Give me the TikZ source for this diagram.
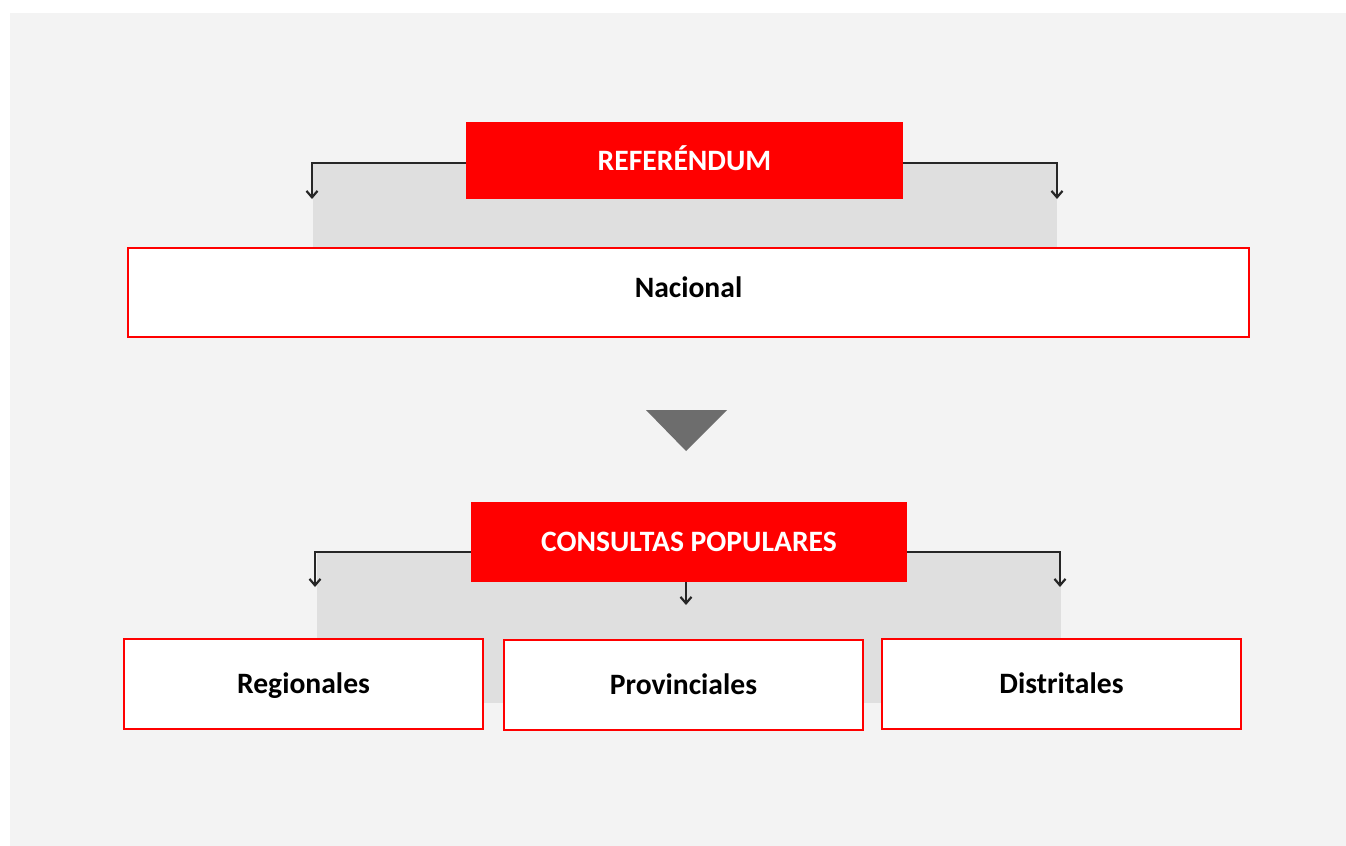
\documentclass[tikz,border=0pt]{standalone}
\usepackage{fontspec}
\setmainfont{Carlito}
\usepackage{tikz}
\usetikzlibrary{arrows.meta}

\definecolor{rojo}{HTML}{FF0000}
\definecolor{fondo}{HTML}{F3F3F3}
\definecolor{banda}{HTML}{DFDFDF}
\definecolor{flecha}{HTML}{6D6D6D}
\definecolor{linea}{HTML}{262626}

\tikzset{
	titulo/.style={shape=rectangle, fill=rojo, text=white, inner sep=0pt, text height=9.5pt, text depth=0pt, font=\fontsize{14.8}{18}\selectfont\bfseries},
	caja/.style={shape=rectangle, draw=rojo, fill=white, line width=1.2pt, inner sep=0pt, text height=9.5pt, text depth=0pt, font=\fontsize{14.8}{18}\selectfont\bfseries},
	conector/.style={-{Straight Barb[length=3.2pt,width=5.5pt,line width=1.1pt]}, line width=0.9pt, draw=linea}
}

\begin{document}
\begin{tikzpicture}[x=0.5pt, y=-0.5pt]
			\useasboundingbox (0,0) rectangle (1346,846);
			\fill[white] (0,0) rectangle (1346,846);
			\fill[fondo] (10,13) rectangle (1346,846);
			
			% bandas grises
			\fill[banda] (313,163) rectangle (1057,247);
			\fill[banda] (317,552) rectangle (1061,703);
			
			\node[titulo, minimum width=218.5pt, minimum height=38.5pt] (R) at (684.5,160.5) {REFERÉNDUM};
			\node[caja, minimum width=560.5pt, minimum height=44.5pt] (N) at (688.5,292.5) {\raisebox{2.5pt}{Nacional}};
			
			\fill[flecha] (646,410) -- (727,410) -- (686,451) -- cycle;
			
			\node[titulo, minimum width=218pt, minimum height=40pt] (C) at (689,542) {CONSULTAS POPULARES};
			\node[caja, minimum width=179.5pt, minimum height=45pt] (C1) at (303.5,684) {Regionales};
			\node[caja, minimum width=179.5pt, minimum height=45pt] (C2) at (683.5,685) {Provinciales};
			\node[caja, minimum width=179.5pt, minimum height=45pt] (C3) at (1061.5,684) {Distritales};
			
			\coordinate (Ri) at (312,199);
			\coordinate (Rd) at (1057,199);
			\coordinate (Ci) at (315,587);
			\coordinate (Cm) at (686,605);
			\coordinate (Cd) at (1060,587);
			
			\path [conector] ([yshift=-1.25pt]R.west) -| (Ri);
			\path [conector] ([yshift=-1.25pt]R.east) -| (Rd);
			\path [conector] ([yshift=-5pt]C.west) -| (Ci);
			\path [conector] (C.south -| Cm) -- (Cm);
			\path [conector] ([yshift=-5pt]C.east) -| (Cd);
			\end{tikzpicture}
\end{document}
